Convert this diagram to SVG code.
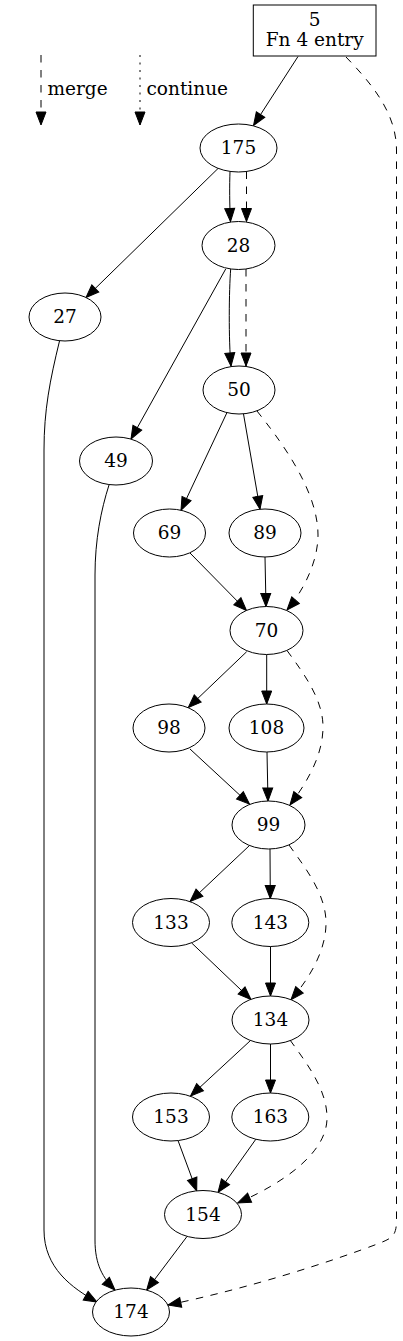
<svg xmlns="http://www.w3.org/2000/svg" width="403" height="1341" viewBox="0 0 403 1341">
<style>
text{font-family:"DejaVu Serif","Liberation Serif",serif;font-size:18.5px;fill:#000}
.node text{text-anchor:middle}
.node ellipse,.node rect{fill:#fff;stroke:#000;stroke-width:1}
.edges path{fill:none;stroke:#000;stroke-width:1}
.edges path.d{stroke-dasharray:7.5,7.5}
.edges path.o{stroke-dasharray:2,5.5}
</style>
<defs>
<marker id="ah" markerUnits="userSpaceOnUse" markerWidth="16" markerHeight="12" refX="13" refY="5" orient="auto" overflow="visible">
<path d="M0,0 L13,5 L0,10 z" fill="#000" stroke="#000" stroke-width="1"/>
</marker>
</defs>
<rect width="403" height="1341" fill="#fff"/>
<g id="legend">
<text x="47.5" y="95">merge</text>
<text x="146.5" y="95">continue</text>
</g>
<g class="edges" id="edges">
<path class="d" d="M41,55 L41,125" marker-end="url(#ah)"/>
<path class="o" d="M140,55 L140,125" marker-end="url(#ah)"/>
<path d="M298,56.5 L253.5,125.5" marker-end="url(#ah)"/>
<path class="d" d="M346,57 C370,82 396.5,112 396.5,150 L396.5,1220 C396.5,1236 392,1238 380,1243 C330,1262 250,1288 168,1305" marker-end="url(#ah)"/>
<path d="M218,168.5 L86,297.5" marker-end="url(#ah)"/>
<path d="M230,171.5 C229.5,185 229.5,205 230.5,221.5" marker-end="url(#ah)"/>
<path class="d" d="M246.5,171.5 L246.5,221.5" marker-end="url(#ah)"/>
<path d="M225.7,269 L131,439" marker-end="url(#ah)"/>
<path d="M230.7,269 C229,290 228.5,340 231,366" marker-end="url(#ah)"/>
<path class="d" d="M246,269 L246,366" marker-end="url(#ah)"/>
<path d="M59.5,341 C50,380 44,410 44,450 L44,1230 C44,1268 72,1288 97,1302" marker-end="url(#ah)"/>
<path d="M109,485 C101,510 95,540 95,575 L95,1240 C95,1265 103,1278 115,1290" marker-end="url(#ah)"/>
<path d="M227,412.5 L181,510.3" marker-end="url(#ah)"/>
<path d="M243.5,414 L260,509.2" marker-end="url(#ah)"/>
<path class="d" d="M257,411 C280,440 318,490 318,535 C318,565 300,595 287,610" marker-end="url(#ah)"/>
<path d="M190,553 L246.5,610.5" marker-end="url(#ah)"/>
<path d="M265,557 L266,606.5" marker-end="url(#ah)"/>
<path d="M246.7,651.7 L188.3,707.5" marker-end="url(#ah)"/>
<path d="M266.7,654.5 L266.7,704" marker-end="url(#ah)"/>
<path class="d" d="M287,650.5 C305,675 323,700 323,727 C323,757 305,785 290,805" marker-end="url(#ah)"/>
<path d="M190,749 L249.5,804.1" marker-end="url(#ah)"/>
<path d="M267,752 L268,801" marker-end="url(#ah)"/>
<path d="M249.5,845.5 L190,901.6" marker-end="url(#ah)"/>
<path d="M270,849 L270.3,898.5" marker-end="url(#ah)"/>
<path class="d" d="M289,845 C307,870 326,895 326,923 C326,952 308,980 291,999.7" marker-end="url(#ah)"/>
<path d="M191.7,943 L251,999.5" marker-end="url(#ah)"/>
<path d="M270.5,946.5 L270.5,996" marker-end="url(#ah)"/>
<path d="M250.5,1040.5 L190.5,1096" marker-end="url(#ah)"/>
<path d="M270.5,1044 L270.5,1093" marker-end="url(#ah)"/>
<path class="d" d="M290,1040 C308,1065 327,1090 327,1118 C327,1150 290,1180 237.7,1203" marker-end="url(#ah)"/>
<path d="M178,1140.5 L196.7,1191" marker-end="url(#ah)"/>
<path d="M256,1139 L218,1192.4" marker-end="url(#ah)"/>
<path d="M187,1236.5 L146.7,1290" marker-end="url(#ah)"/>
</g>
<g class="node" id="n5"><rect x="253.3" y="5" width="122.7" height="51"/><text x="314.7" y="26">5</text><text x="314.7" y="46">Fn 4 entry</text></g>
<g class="node" id="n175"><ellipse cx="238.5" cy="148" rx="38.5" ry="24"/><text x="238.5" y="154">175</text></g>
<g class="node" id="n28"><ellipse cx="238.5" cy="245.5" rx="36.5" ry="24"/><text x="238.5" y="251.5">28</text></g>
<g class="node" id="n27"><ellipse cx="65" cy="317" rx="36" ry="24"/><text x="65" y="323">27</text></g>
<g class="node" id="n50"><ellipse cx="239" cy="390" rx="36" ry="24"/><text x="239" y="396">50</text></g>
<g class="node" id="n49"><ellipse cx="116" cy="461" rx="36.5" ry="24"/><text x="116" y="467">49</text></g>
<g class="node" id="n69"><ellipse cx="169.5" cy="533" rx="36" ry="24"/><text x="169.5" y="539">69</text></g>
<g class="node" id="n89"><ellipse cx="265" cy="533" rx="36" ry="24"/><text x="265" y="539">89</text></g>
<g class="node" id="n70"><ellipse cx="266.5" cy="630.5" rx="36.5" ry="24"/><text x="266.5" y="636.5">70</text></g>
<g class="node" id="n98"><ellipse cx="169" cy="728" rx="36" ry="24"/><text x="169" y="734">98</text></g>
<g class="node" id="n108"><ellipse cx="266.5" cy="728" rx="37.5" ry="24"/><text x="266.5" y="734">108</text></g>
<g class="node" id="n99"><ellipse cx="268.5" cy="825" rx="36.5" ry="24"/><text x="268.5" y="831">99</text></g>
<g class="node" id="n133"><ellipse cx="171" cy="922.5" rx="38.5" ry="24"/><text x="171" y="928.5">133</text></g>
<g class="node" id="n143"><ellipse cx="270.3" cy="922.5" rx="38.5" ry="24"/><text x="270.3" y="928.5">143</text></g>
<g class="node" id="n134"><ellipse cx="270.5" cy="1020" rx="38.5" ry="24"/><text x="270.5" y="1026">134</text></g>
<g class="node" id="n153"><ellipse cx="171" cy="1117" rx="38.5" ry="24"/><text x="171" y="1123">153</text></g>
<g class="node" id="n163"><ellipse cx="270.3" cy="1117" rx="38.5" ry="24"/><text x="270.3" y="1123">163</text></g>
<g class="node" id="n154"><ellipse cx="203" cy="1214.5" rx="38.5" ry="24"/><text x="203" y="1220.5">154</text></g>
<g class="node" id="n174"><ellipse cx="131" cy="1312" rx="38.5" ry="24"/><text x="131" y="1318">174</text></g>
</svg>
